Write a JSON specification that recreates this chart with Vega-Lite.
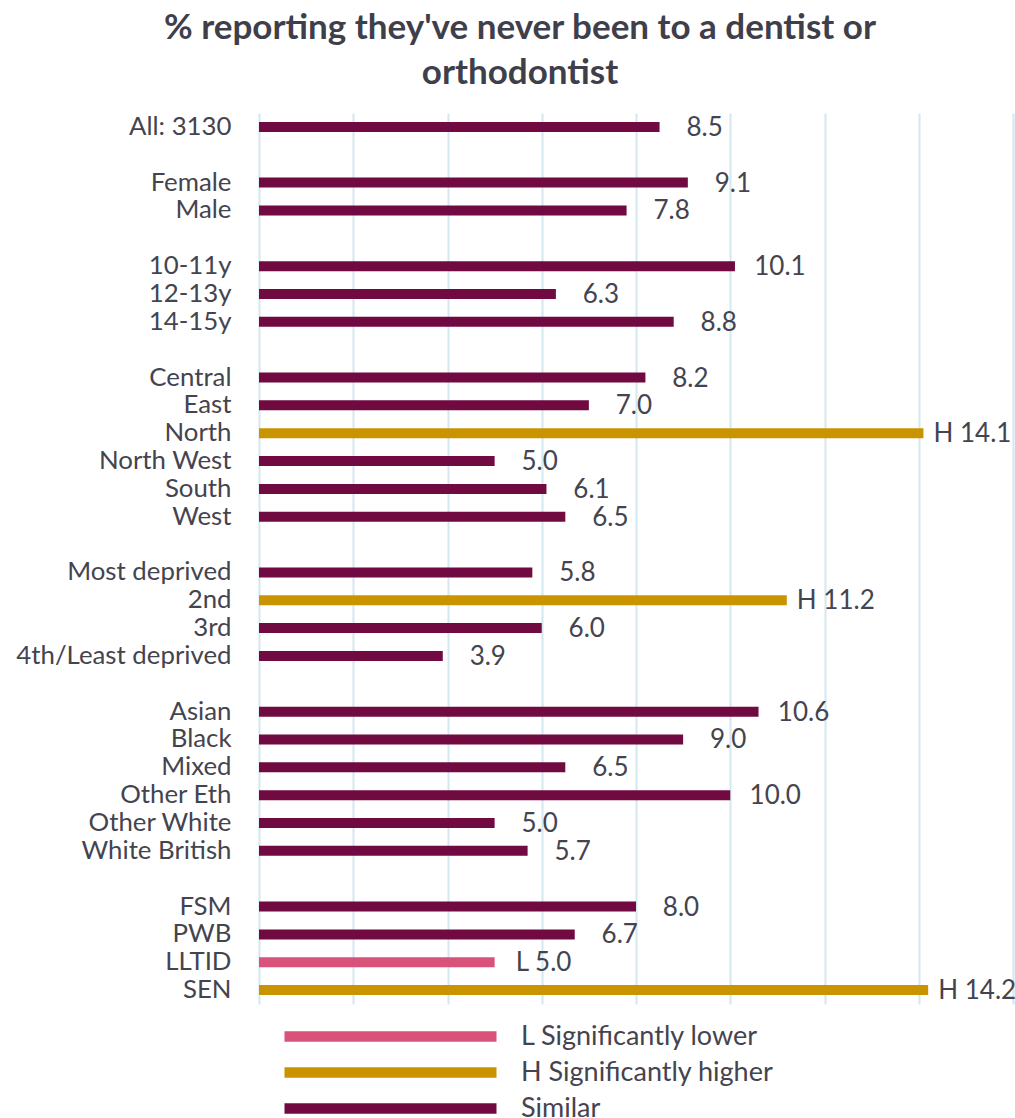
{
  "$schema": "https://vega.github.io/schema/vega-lite/v6.json",
  "width": 754,
  "height": 891,
  "autosize": {"type": "none"},
  "padding": {"left": 259, "top": 113, "right": 2, "bottom": 114},
  "background": "white",
  "title": {
    "text": ["% reporting they've never been to a dentist or", "orthodontist"],
    "anchor": "middle",
    "dx": -116,
    "offset": 22,
    "font": "Lato",
    "fontSize": 35,
    "fontWeight": "bold",
    "color": "#3F3F4C",
    "lineHeight": 45
  },
  "config": {
    "view": {"stroke": null},
    "font": "Lato"
  },
  "data": {
    "values": [
      {"group": "All: 3130", "value": 8.5, "sig": "Similar"},
      {"group": "Female", "value": 9.1, "sig": "Similar"},
      {"group": "Male", "value": 7.8, "sig": "Similar"},
      {"group": "10-11y", "value": 10.1, "sig": "Similar"},
      {"group": "12-13y", "value": 6.3, "sig": "Similar"},
      {"group": "14-15y", "value": 8.8, "sig": "Similar"},
      {"group": "Central", "value": 8.2, "sig": "Similar"},
      {"group": "East", "value": 7.0, "sig": "Similar"},
      {"group": "North", "value": 14.1, "sig": "H Significantly higher"},
      {"group": "North West", "value": 5.0, "sig": "Similar"},
      {"group": "South", "value": 6.1, "sig": "Similar"},
      {"group": "West", "value": 6.5, "sig": "Similar"},
      {"group": "Most deprived", "value": 5.8, "sig": "Similar"},
      {"group": "2nd", "value": 11.2, "sig": "H Significantly higher"},
      {"group": "3rd", "value": 6.0, "sig": "Similar"},
      {"group": "4th/Least deprived", "value": 3.9, "sig": "Similar"},
      {"group": "Asian", "value": 10.6, "sig": "Similar"},
      {"group": "Black", "value": 9.0, "sig": "Similar"},
      {"group": "Mixed", "value": 6.5, "sig": "Similar"},
      {"group": "Other Eth", "value": 10.0, "sig": "Similar"},
      {"group": "Other White", "value": 5.0, "sig": "Similar"},
      {"group": "White British", "value": 5.7, "sig": "Similar"},
      {"group": "FSM", "value": 8.0, "sig": "Similar"},
      {"group": "PWB", "value": 6.7, "sig": "Similar"},
      {"group": "LLTID", "value": 5.0, "sig": "L Significantly lower"},
      {"group": "SEN", "value": 14.2, "sig": "H Significantly higher"}
    ]
  },
  "transform": [
    {"calculate": "(datum.sig == 'Similar' ? '' : substring(datum.sig, 0, 1) + ' ') + format(datum.value, '.1f')", "as": "lbl"}
  ],
  "encoding": {
    "y": {
      "field": "group",
      "type": "nominal",
      "scale": {
        "type": "band",
        "paddingInner": 0,
        "paddingOuter": 0,
        "domain": ["All: 3130", "~1", "Female", "Male", "~2", "10-11y", "12-13y", "14-15y", "~3", "Central", "East", "North", "North West", "South", "West", "~4", "Most deprived", "2nd", "3rd", "4th/Least deprived", "~5", "Asian", "Black", "Mixed", "Other Eth", "Other White", "White British", "~6", "FSM", "PWB", "LLTID", "SEN"]
      },
      "axis": {
        "title": null,
        "domain": false,
        "ticks": false,
        "grid": false,
        "labelFont": "Lato",
        "labelFontSize": 25.8,
        "labelColor": "#44444F",
        "labelPadding": 28,
        "labelLimit": 300,
        "labelExpr": "indexof(datum.label, '~') == 0 ? '' : datum.label"
      }
    },
    "x": {
      "field": "value",
      "type": "quantitative",
      "scale": {"domain": [0, 16], "nice": false},
      "axis": {
        "title": null,
        "values": [0, 2, 4, 6, 8, 10, 12, 14, 16],
        "grid": true,
        "gridColor": "#D3E8F0",
        "gridWidth": 2,
        "domain": false,
        "ticks": false,
        "labels": false
      }
    }
  },
  "layer": [
    {
      "mark": {"type": "bar", "size": 10},
      "encoding": {
        "color": {
          "field": "sig",
          "type": "nominal",
          "scale": {
            "domain": ["L Significantly lower", "H Significantly higher", "Similar"],
            "range": ["#D8527A", "#C99400", "#710A41"]
          },
          "legend": {
            "title": null,
            "orient": "none",
            "legendX": 118,
            "legendY": 910,
            "direction": "vertical",
            "padding": 0,
            "symbolType": "M-21.2,-1.05H21.2V1.05H-21.2Z",
            "symbolSize": 100,
            "symbolStrokeWidth": 0,
            "symbolOpacity": 1,
            "labelFont": "Lato",
            "labelFontSize": 27,
            "labelColor": "#44444F",
            "labelOffset": 117,
            "rowPadding": 8,
            "labelLimit": 400
          }
        }
      }
    },
    {
      "transform": [{"filter": "datum.sig == 'Similar'"}],
      "mark": {"type": "text", "align": "center", "baseline": "middle", "dx": 45, "dy": 1, "font": "Lato", "fontSize": 26, "color": "#44444F"},
      "encoding": {
        "text": {"field": "lbl", "type": "nominal"}
      }
    },
    {
      "transform": [{"filter": "datum.sig != 'Similar'"}],
      "mark": {"type": "text", "align": "center", "baseline": "middle", "dx": 49, "dy": 1, "font": "Lato", "fontSize": 26, "color": "#44444F"},
      "encoding": {
        "text": {"field": "lbl", "type": "nominal"}
      }
    }
  ]
}
